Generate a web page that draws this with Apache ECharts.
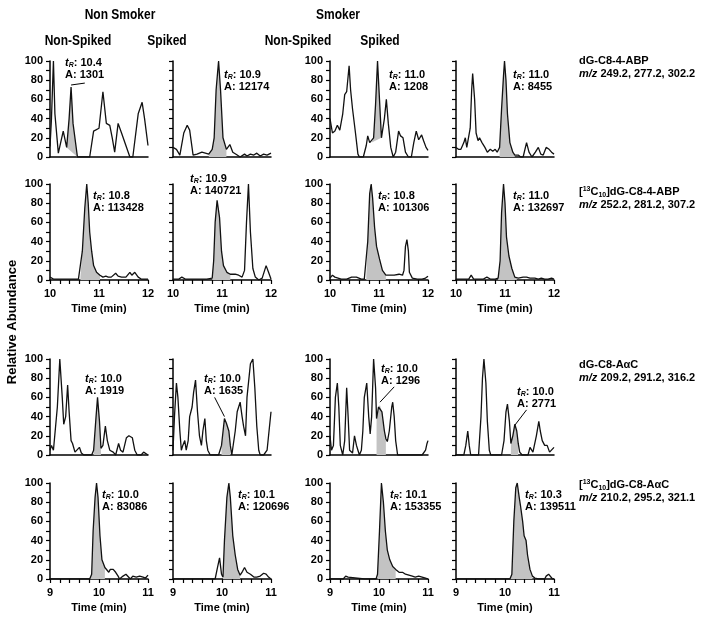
<!DOCTYPE html>
<html><head><meta charset="utf-8">
<script src="https://cdn.jsdelivr.net/npm/echarts@6/dist/echarts.min.js"></script>
<style>html,body{margin:0;padding:0;background:#fff}#c{width:704px;height:623px}</style>
</head><body><div id="c"></div>
<script>
// ---------- DATA ----------
const groupTitles = ['Non Smoker', 'Smoker'];
const colTitles = ['Non-Spiked', 'Spiked', 'Non-Spiked', 'Spiked'];
const xAxisName = 'Time (min)';
const yAxisName = 'Relative Abundance';
const xRangeTop = [10, 12];
const xRangeBottom = [9, 11];

// Row 1: dG-C8-4-ABP
const p11_t = [10.0,10.03,10.07,10.10,10.17,10.27,10.34,10.39,10.43,10.47,10.56,10.81,10.89,11.0,11.02,11.08,11.15,11.22,11.27,11.32,11.39,11.46,11.49,11.63,11.69,11.80,11.88,11.93,12.0];
const p11_v = [11,40,100,45,4,27,10,40,73,35,0,0,27,30,28,68,35,33,20,5,35,25,27,0,0,45,57,40,12];
const p12_t = [10.0,10.07,10.14,10.22,10.29,10.34,10.41,10.49,10.59,10.66,10.73,10.80,10.84,10.88,10.93,10.97,11.02,11.09,11.16,11.22,11.31,11.37,11.46,11.51,11.58,11.65,11.71,11.78,11.85,11.92,12.0];
const p12_v = [10,8,2,25,33,28,2,3,5,4,3,8,20,70,100,70,20,8,13,5,2,0,3,1,3,2,4,1,3,2,4];
const p13_t = [10.0,10.05,10.10,10.15,10.20,10.26,10.30,10.34,10.39,10.42,10.46,10.49,10.52,10.57,10.60,10.68,10.74,10.77,10.81,10.85,10.89,10.93,10.97,11.01,11.05,11.11,11.15,11.19,11.24,11.29,11.34,11.40,11.44,11.49,11.54,11.60,11.66,11.71,11.76,11.81,11.87,11.91,11.96,12.0];
const p13_v = [40,25,27,33,28,45,65,68,95,70,50,48,25,3,0,0,12,22,15,15,20,55,100,60,20,40,60,35,10,0,5,27,22,20,5,0,0,15,27,18,23,17,10,7];
const p14_t = [10.0,10.05,10.10,10.16,10.19,10.22,10.26,10.29,10.32,10.34,10.38,10.41,10.45,10.48,10.53,10.59,10.64,10.70,10.75,10.80,10.84,10.89,10.93,10.97,10.99,11.02,11.05,11.10,11.16,11.20,11.27,11.32,11.37,11.44,11.49,11.55,11.62,11.68,11.73,11.78,11.84,11.90,11.95,12.0];
const p14_v = [10,8,8,15,20,10,8,30,70,87,60,25,17,20,15,10,5,8,6,8,5,10,50,85,100,80,45,15,5,2,2,0,0,15,5,0,5,10,3,2,10,8,5,3];

// Row 2: [13C10]dG-C8-4-ABP
const p21_t = [10.0,10.07,10.2,10.34,10.47,10.58,10.62,10.66,10.71,10.75,10.78,10.81,10.85,10.89,10.95,11.02,11.08,11.14,11.19,11.25,11.34,11.39,11.46,11.55,11.63,11.67,11.73,11.80,11.86,12.0];
const p21_v = [3,1,1,1,1,1,3,30,75,100,80,50,30,15,8,5,3,4,3,3,7,4,3,3,8,5,8,3,1,1];
const p22_t = [10.0,10.12,10.18,10.25,10.35,10.49,10.59,10.69,10.80,10.83,10.86,10.90,10.95,10.99,11.03,11.10,11.17,11.27,11.34,11.41,11.46,11.50,11.54,11.58,11.63,11.68,11.75,11.82,11.87,11.90,11.95,12.0];
const p22_v = [1,1,3,1,1,1,1,1,2,20,60,83,65,30,15,8,6,6,5,3,10,60,100,50,12,3,0,2,10,15,8,1];
const p23_t = [10.0,10.05,10.10,10.13,10.23,10.34,10.44,10.54,10.64,10.70,10.74,10.77,10.81,10.84,10.87,10.91,10.95,11.01,11.07,11.14,11.21,11.31,11.41,11.48,11.51,11.54,11.57,11.60,11.62,11.68,11.78,11.88,11.95,12.0];
const p23_v = [2,5,3,1,1,1,3,3,1,1,3,40,90,100,85,55,35,22,10,5,5,5,6,5,10,35,42,30,8,2,1,1,2,4];
const p24_t = [10.0,10.16,10.26,10.31,10.36,10.46,10.56,10.63,10.70,10.80,10.86,10.90,10.93,10.97,11.0,11.03,11.08,11.14,11.20,11.24,11.27,11.37,11.44,11.51,11.61,11.68,11.74,11.81,11.88,11.95,12.0];
const p24_v = [1,1,1,5,1,1,1,3,1,1,2,20,70,100,80,45,25,12,3,2,2,3,3,2,2,1,2,1,1,2,1];

// Row 3: dG-C8-AaC
const p31_t = [9.0,9.03,9.07,9.10,9.15,9.20,9.25,9.28,9.32,9.36,9.39,9.43,9.46,9.51,9.54,9.60,9.64,9.69,9.85,9.89,9.94,9.97,10.01,10.04,10.08,10.13,10.17,10.22,10.29,10.34,10.40,10.44,10.49,10.56,10.61,10.68,10.73,10.78,10.86,10.91,10.97,11.0];
const p31_v = [5,10,5,3,50,100,60,32,40,73,45,15,12,3,2,8,2,0,0,5,40,60,35,7,10,30,15,5,3,0,12,5,3,18,20,18,5,0,0,3,1,0];
const p32_t = [9.0,9.03,9.07,9.10,9.14,9.17,9.20,9.24,9.27,9.31,9.34,9.39,9.42,9.46,9.50,9.54,9.58,9.61,9.65,9.68,9.71,9.76,9.93,9.99,10.05,10.09,10.14,10.17,10.20,10.24,10.27,10.31,10.34,10.37,10.41,10.44,10.48,10.51,10.58,10.63,10.67,10.71,10.75,10.78,10.85,10.92,11.0];
const p32_v = [5,40,75,60,25,5,10,15,5,15,40,50,65,78,45,20,10,25,38,15,5,0,0,10,38,33,25,10,0,0,25,45,45,55,40,30,20,60,95,100,70,30,5,0,0,5,45];
const p33_t = [9.0,9.03,9.07,9.11,9.15,9.18,9.21,9.26,9.30,9.34,9.37,9.40,9.46,9.50,9.54,9.57,9.60,9.64,9.67,9.70,9.75,9.79,9.82,9.85,9.89,9.93,9.95,9.99,10.02,10.06,10.11,10.14,10.17,10.21,10.26,10.28,10.31,10.34,10.38,10.48,10.61,10.74,10.88,10.95,10.98,11.0];
const p33_v = [20,5,10,60,75,50,10,0,15,70,40,5,2,20,10,5,0,5,25,60,75,40,22,40,100,70,38,50,52,45,25,17,14,25,50,55,40,15,0,0,0,0,0,5,12,15];
const p34_t = [9.0,9.16,9.20,9.24,9.27,9.30,9.46,9.51,9.54,9.57,9.61,9.64,9.68,9.71,9.93,9.98,10.02,10.05,10.09,10.12,10.16,10.20,10.24,10.27,10.30,10.35,10.47,10.51,10.54,10.57,10.61,10.64,10.69,10.72,10.76,10.81,10.86,10.91,10.95,11.0];
const p34_v = [0,0,10,25,10,0,0,40,80,100,75,35,5,0,0,15,45,53,35,12,20,32,25,12,3,0,0,8,10,3,5,20,35,25,15,10,10,3,5,8];

// Row 4: [13C10]dG-C8-AaC
const p41_t = [9.0,9.5,9.81,9.85,9.88,9.92,9.95,9.98,10.02,10.06,10.12,10.15,10.20,10.23,10.29,10.34,10.39,10.42,10.49,10.55,10.59,10.64,10.69,10.76,10.83,10.90,10.95,11.0];
const p41_v = [0,0,0,5,50,85,100,85,45,20,12,10,7,10,10,7,3,0,3,5,3,0,3,2,3,2,1,4];
const p42_t = [9.0,9.5,9.86,9.90,9.95,9.99,10.02,10.05,10.10,10.14,10.17,10.22,10.27,10.32,10.37,10.42,10.46,10.51,10.58,10.65,10.71,10.78,10.85,10.90,10.95,11.0];
const p42_v = [0,0,0,10,22,5,2,40,85,100,85,45,25,10,4,8,12,7,5,2,2,3,6,5,2,0];
const p43_t = [9.0,9.27,9.32,9.37,9.40,9.7,9.94,9.97,10.01,10.05,10.09,10.13,10.17,10.22,10.28,10.34,10.41,10.48,10.54,10.61,10.68,10.74,10.81,10.88,10.95,11.0];
const p43_v = [0,0,3,2,0,0,0,5,50,100,80,50,30,20,13,10,7,7,5,4,3,2,3,2,1,0];
const p44_t = [9.0,9.5,10.10,10.14,10.18,10.22,10.25,10.29,10.32,10.36,10.39,10.43,10.46,10.51,10.56,10.61,10.68,10.81,10.84,10.89,10.93,10.97,11.0];
const p44_v = [0,0,0,5,60,95,100,85,75,60,45,40,25,10,3,1,0,0,3,5,3,0,0];

// shaded peak: [tStart, tEnd, baselineStart, baselineEnd]
const shades = [
  [10.34,10.56,10,0],[10.73,11.09,0,0],[10.85,11.05,15,20],[10.89,11.20,0,0],
  [10.62,11.02,0,0],[10.80,11.17,0,0],[10.74,11.14,0,0],[10.86,11.24,0,0],
  [9.89,10.04,0,0],[9.99,10.17,0,0],[9.95,10.14,0,0],[10.12,10.27,0,0],
  [9.81,10.12,0,0],[10.02,10.37,0,0],[9.97,10.34,0,0],[10.10,10.56,0,0]
];
const tRvals = ['10.4','10.9','11.0','11.0','10.8','10.9','10.8','11.0','10.0','10.0','10.0','10.0','10.0','10.1','10.1','10.3'];
const areaVals = ['1301','12174','1208','8455','113428','140721','101306','132697','1919','1635','1296','2771','83086','120696','153355','139511'];
// leader lines in data coords: panel index -> [t1,v1,t2,v2]
const leaders = {0:[10.43,75,10.71,77], 9:[9.85,60,10.05,40], 10:[10.31,71,10.02,55], 11:[10.44,47,10.20,31]};
const rowLabelCompound = ['dG-C8-4-ABP','[{sup|13}C{sub|10}]dG-C8-4-ABP','dG-C8-A\u03b1C','[{sup|13}C{sub|10}]dG-C8-A\u03b1C'];
const rowLabelMz = ['249.2, 277.2, 302.2','252.2, 281.2, 307.2','209.2, 291.2, 316.2','210.2, 295.2, 321.1'];

// ---------- LAYOUT ----------
const FF = '"Liberation Sans", Arial, Helvetica, sans-serif';
const colLeft = [50,173,330,456];
const rowTop = [61,184,359,483];
const PW = 98, PH = 96;
const annPos = [[65,63],[224,75],[389,75],[513,75],[93,196],[190,179],[378,196],[513,196],[85,379],[204,379],[381,369],[517,392],[102,495],[238,495],[390,495],[525,495]];
const rowLabelY = [[61,74],[192,205],[365,378],[485,498]];

const traces = [[p11_t,p11_v],[p12_t,p12_v],[p13_t,p13_v],[p14_t,p14_v],
                [p21_t,p21_v],[p22_t,p22_v],[p23_t,p23_v],[p24_t,p24_v],
                [p31_t,p31_v],[p32_t,p32_v],[p33_t,p33_v],[p34_t,p34_v],
                [p41_t,p41_v],[p42_t,p42_v],[p43_t,p43_v],[p44_t,p44_v]];

const chart = echarts.init(document.getElementById('c'), null, {renderer:'canvas'});
const grids=[], xAxes=[], yAxes=[], series=[];
const black = '#000';
for (let r=0;r<4;r++) for (let c=0;c<4;c++) {
  const i = r*4+c;
  const bottomRow = (r===1 || r===3);
  const rng = r<2 ? xRangeTop : xRangeBottom;
  grids.push({left:colLeft[c], top:rowTop[r], width:PW, height:PH, containLabel:false});
  xAxes.push({type:'value', gridIndex:i, min:rng[0], max:rng[1], interval:1,
    axisLine:{show:true,onZero:false,lineStyle:{color:black,width:1.5}},
    axisTick:{show:bottomRow,length:4,lineStyle:{color:black,width:1.2}},
    minorTick:{show:bottomRow,splitNumber:5,length:4,lineStyle:{color:black,width:1.2}},
    axisLabel:{show:bottomRow,margin:8,color:black,fontWeight:'bold',fontSize:11,fontFamily:FF,showMinLabel:true,showMaxLabel:true},
    splitLine:{show:false}, minorSplitLine:{show:false},
    name: bottomRow ? xAxisName : '', nameLocation:'middle', nameGap:23,
    nameTextStyle:{color:black,fontWeight:'bold',fontSize:11,fontFamily:FF}
  });
  yAxes.push({type:'value', gridIndex:i, min:0, max:100, interval:20,
    axisLine:{show:true,onZero:false,lineStyle:{color:black,width:1.5}},
    axisTick:{show:true,length:4,lineStyle:{color:black,width:1.2}},
    minorTick:{show:true,splitNumber:2,length:4,lineStyle:{color:black,width:1.2}},
    axisLabel:{show:(c===0||c===2),margin:7,color:black,fontWeight:'bold',fontSize:11,fontFamily:FF,showMinLabel:true,showMaxLabel:true},
    splitLine:{show:false}, minorSplitLine:{show:false}
  });
  const tr = traces[i];
  const data = tr[0].map((t,k)=>[t,tr[1][k]]);
  const sh = shades[i];
  series.push({type:'custom', xAxisIndex:i, yAxisIndex:i, data:[0], silent:true, z:2,
    renderItem:function(params, api){
      const pts=[];
      for (const d of data) if (d[0]>=sh[0]-1e-9 && d[0]<=sh[1]+1e-9) pts.push(api.coord(d));
      pts.push(api.coord([sh[1],sh[3]]));
      pts.push(api.coord([sh[0],sh[2]]));
      return {type:'polygon', shape:{points:pts}, style:{fill:'#c3c3c3', stroke:null}};
    }});
  const s = {type:'line', xAxisIndex:i, yAxisIndex:i, data:data, symbol:'none', smooth:false,
    lineStyle:{color:'#111',width:1.3}, z:3, silent:true, clip:true};
  if (leaders[i]) {
    const L = leaders[i];
    s.markLine = {silent:true, symbol:['none','none'], label:{show:false},
      lineStyle:{color:black,width:1,type:'solid'},
      data:[[{coord:[L[0],L[1]]},{coord:[L[2],L[3]]}]]};
  }
  series.push(s);
}

const graphics = [];
function txt(x,y,text,opt){
  const o = Object.assign({type:'text', x:x, y:y, silent:true, z:10,
    style:Object.assign({text:text, fill:black, font:'bold 11px '+FF, textAlign:'left', align:'left', textVerticalAlign:'middle', verticalAlign:'middle'}, opt && opt.style || {})}, opt && opt.el || {});
  graphics.push(o);
}
// group & column headers (condensed look)
txt(120,15,groupTitles[0],{style:{font:'bold 15px '+FF,textAlign:'center',align:'center'},el:{scaleX:0.8}});
txt(338,15,groupTitles[1],{style:{font:'bold 15px '+FF,textAlign:'center',align:'center'},el:{scaleX:0.8}});
const colHeadX = [78,167,298,380];
colTitles.forEach((t,k)=>txt(colHeadX[k],41,t,{style:{font:'bold 15px '+FF,textAlign:'center',align:'center'},el:{scaleX:0.8}}));
// y axis name
txt(12,322,yAxisName,{style:{font:'bold 13px '+FF,textAlign:'center',align:'center'},el:{rotation:Math.PI/2}});
// row labels
const richCommon = {
  sup:{fontSize:7,fontWeight:'bold',fontFamily:FF,verticalAlign:'top',fill:black},
  sub:{fontSize:7,fontWeight:'bold',fontFamily:FF,verticalAlign:'bottom',fill:black},
  n:{fontSize:11,fontWeight:'bold',fontFamily:FF,lineHeight:13,fill:black},
  i:{fontSize:11,fontWeight:'bold',fontStyle:'italic',fontFamily:FF,lineHeight:13,fill:black}
};
for (let r=0;r<4;r++){
  const comp = rowLabelCompound[r].replace(/([^{}|]+)(?![^{]*\})/g, '$1');
  // wrap plain segments with {n|...}
  const parts = rowLabelCompound[r].split(/(\{[a-z]+\|[^}]*\})/).filter(p=>p.length);
  const richText = parts.map(p=>p.startsWith('{')?p:'{n|'+p+'}').join('');
  txt(579,rowLabelY[r][0],richText,{style:{rich:richCommon}});
  txt(579,rowLabelY[r][1],'{i|m/z}{n| '+rowLabelMz[r]+'}',{style:{rich:richCommon}});
}
// annotations
const annRich = {
  t:{fontSize:11,fontWeight:'bold',fontStyle:'italic',fontFamily:FF,lineHeight:12,fill:black},
  s:{fontSize:7,fontWeight:'bold',fontStyle:'italic',fontFamily:FF,verticalAlign:'bottom',fill:black},
  b:{fontSize:11,fontWeight:'bold',fontFamily:FF,lineHeight:12,fill:black}
};
for (let i=0;i<16;i++){
  const p = annPos[i];
  txt(p[0],p[1]-6,'{t|t}{s|R}{b|: '+tRvals[i]+'}\n{b|A: '+areaVals[i]+'}',
    {style:{rich:annRich,textVerticalAlign:'top',verticalAlign:'top'}});
}

chart.setOption({animation:false, backgroundColor:'#fff', grid:grids, xAxis:xAxes, yAxis:yAxes, series:series, graphic:graphics});
</script></body></html>
